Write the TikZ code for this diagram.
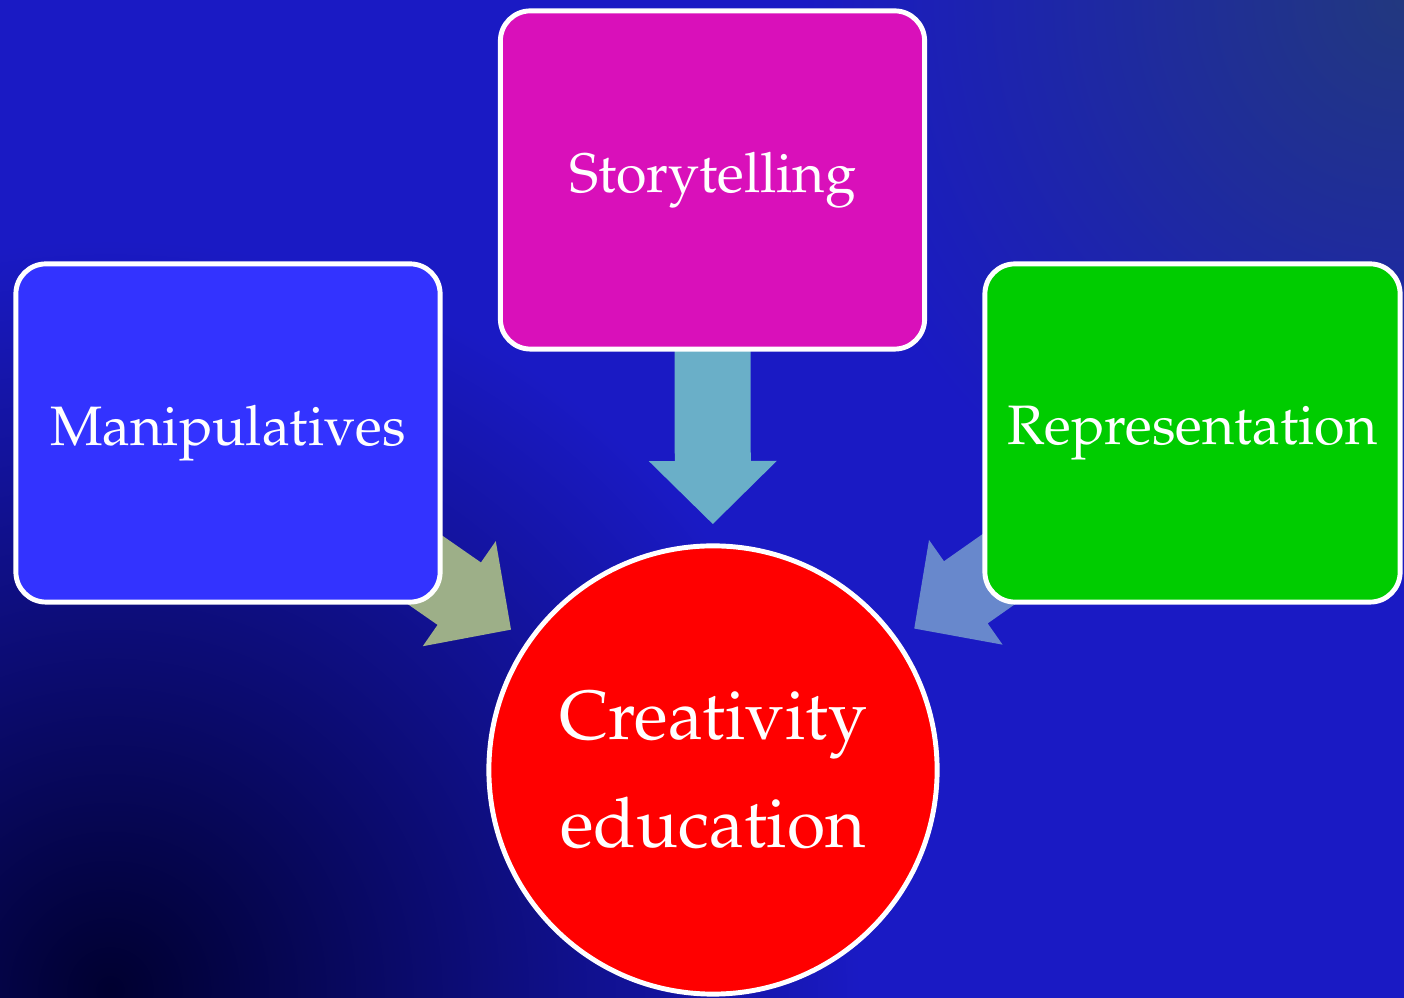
\documentclass[tikz,border=0pt]{standalone}
\usepackage[T1]{fontenc}
\usepackage{mathpazo}
\usetikzlibrary{calc}
\pgfdeclarelayer{bg}
\pgfsetlayers{bg,main}

\definecolor{bgblue}{HTML}{1A1AC4}
\definecolor{bgdark}{HTML}{000030}
\definecolor{bggrey}{HTML}{22387F}
\definecolor{manipblue}{HTML}{3333FF}
\definecolor{storypink}{HTML}{D910BA}
\definecolor{reprgreen}{HTML}{00CC00}
\definecolor{creatred}{HTML}{FF0000}
\definecolor{leftarr}{HTML}{9DAF88}
\definecolor{toparr}{HTML}{6AAFC8}
\definecolor{rightarr}{HTML}{6888CC}

\begin{document}
\begin{tikzpicture}[x=0.01cm,y=0.01cm,
	box/.style={rectangle,rounded corners=0.3cm,draw=white,line width=1.4pt,minimum width=4.24cm,minimum height=3.38cm,text=white,font=\fontsize{15.8}{19}\selectfont},
	ring/.style={circle,draw=white,line width=1.4pt,minimum size=4.48cm,text=white,align=center,font=\fontsize{19.8}{30.7}\selectfont}]
	\useasboundingbox (0,0) rectangle (1404,998);

	\node[ring,fill=creatred] (creat) at (713,228) {Creativity\\education};
	\node[box,fill=manipblue] (manip) at (228,565) {Manipulatives};
	\node[box,fill=storypink] (story) at (712.5,818) {Storytelling};
	\node[box,fill=reprgreen,minimum width=4.15cm] (repr) at (1192.5,565) {Representation};

	\begin{pgfonlayer}{bg}
		\begin{scope}
			\clip (0,0) rectangle (1404,998);
			\fill[bgblue] (0,0) rectangle (1404,998);
			\shade[inner color=bgdark,outer color=bgblue] (110,8) circle (7.5cm);
			\shade[inner color=bggrey,outer color=bgblue] (1404,998) circle (6cm);
		\end{scope}
		% fat arrows towards the circle
		\foreach \src/\col in {manip/leftarr,story/toparr,repr/rightarr}{
			\path let \p1=($(\src.center)-(creat.center)$) in
				\pgfextra{\pgfmathsetmacro\arrang{atan2(\y1,\x1)}\global\let\arrang\arrang};
			\begin{scope}[shift={(creat.center)},rotate=\arrang]
				\fill[\col] (246,0) -- (309,64) -- (309,38) -- (560,38) -- (560,-38) -- (309,-38) -- (309,-64) -- cycle;
			\end{scope}
		}
	\end{pgfonlayer}
\end{tikzpicture}
\end{document}
